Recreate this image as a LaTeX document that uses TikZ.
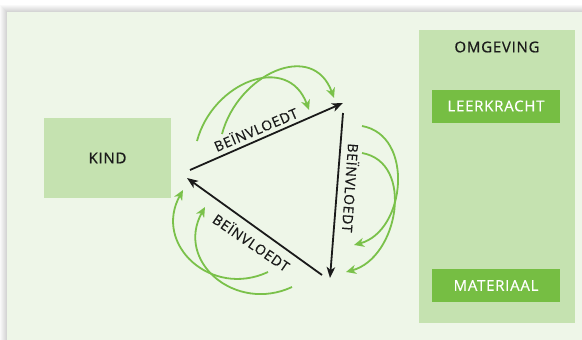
\documentclass[tikz,border=0pt]{standalone}
\usepackage{fontspec}
\setmainfont{Open Sans}[LetterSpace=5, FakeBold=0.5]
\usetikzlibrary{arrows.meta}

\definecolor{panelgreen}{HTML}{EEF6E8}
\definecolor{boxgreen}{HTML}{C5E2B0}
\definecolor{darkgreen}{HTML}{76BE43}
\definecolor{arcgreen}{HTML}{7AC14A}
\definecolor{labelblack}{HTML}{1A1A1A}

\tikzset{
    capstext/.style={font=\fontsize{15}{15}\selectfont, text height=10.7pt, text depth=0pt},
    lightbox/.style={fill=boxgreen, inner sep=0pt, text=labelblack},
    darkbox/.style={fill=darkgreen, inner sep=0pt, text=white, minimum width=128pt, minimum height=33pt},
    relabel/.style={font=\fontsize{14}{14}\selectfont, text height=10pt, text depth=0pt, inner sep=0pt, text=labelblack},
    influence/.style={-{Stealth[length=11pt,width=8.5pt,inset=3pt]}, line width=1.8pt, labelblack},
    feedback/.style={-{Stealth[length=10pt,width=9pt,inset=3pt]}, line width=1.8pt, arcgreen},
}

\begin{document}
\begin{tikzpicture}[x=1pt,y=1pt]
        \useasboundingbox (0,0) rectangle (582,-340);
        \fill[white] (0,0) rectangle (582,-340);
        \foreach \i in {1,...,7}
            \fill[black, opacity=0.025] ({7-\i},{-12+\i}) rectangle (582,-340); % shadow
        \fill[panelgreen] (7,-12) rectangle (582,-340);

        % boxes
        \node[lightbox, capstext, minimum width=127pt, minimum height=80pt] (kind) at (107.5,-158) {KIND};
        \node[lightbox, minimum width=156pt, minimum height=293pt] (omgeving) at (497,-176.5) {};
        \node[capstext, text=labelblack, inner sep=0pt] (omgtitle) at (497,-47) {OMGEVING};
        \node[darkbox, capstext] (leerkracht) at (496,-106) {LEERKRACHT};
        \node[darkbox, capstext] (materiaal) at (496,-285.5) {MATERIAAL};

        % triangle
        \coordinate (t1) at (190,-170);
        \coordinate (t2) at (343,-103);
        \coordinate (r1) at (343,-113);
        \coordinate (r2) at (330,-278);
        \coordinate (b1) at (322,-275);
        \coordinate (b2) at (187,-178);
        \draw[influence] (t1) -- (t2);
        \draw[influence] (r1) -- (r2);
        \draw[influence] (b1) -- (b2);
        \node[relabel, rotate=23] (toplabel) at (256,-130) {BEÏNVLOEDT};
        \node[relabel, rotate=-94] (rightlabel) at (350,-188) {BEÏNVLOEDT};
        \node[relabel, rotate=-34.5] (bottomlabel) at (251,-243) {BEÏNVLOEDT};

        % green loops
        \coordinate (tg1s) at (197,-141);
        \coordinate (tg1e) at (309,-110);
        \coordinate (tg2s) at (222,-134);
        \coordinate (tg2e) at (334,-98);
        \coordinate (rg1s) at (362,-126);
        \coordinate (rg1e) at (354,-245);
        \coordinate (rg2s) at (362,-153);
        \coordinate (rg2e) at (346,-272);
        \coordinate (bg1s) at (268,-272);
        \coordinate (bg1e) at (183,-190);
        \coordinate (bg2s) at (292,-287);
        \coordinate (bg2e) at (205,-207);
        \draw[feedback] (tg1s) to[out=75,in=110,looseness=1.35] (tg1e); % top
        \draw[feedback] (tg2s) to[out=75,in=110,looseness=1.35] (tg2e);
        \draw[feedback] (rg1s) to[out=-10,in=15,looseness=1.15] (rg1e); % right
        \draw[feedback] (rg2s) to[out=-10,in=15,looseness=1.15] (rg2e);
        \draw[feedback] (bg1s) to[out=205,in=241,looseness=1.35] (bg1e); % bottom
        \draw[feedback] (bg2s) to[out=205,in=241,looseness=1.35] (bg2e);
\end{tikzpicture}
\end{document}
